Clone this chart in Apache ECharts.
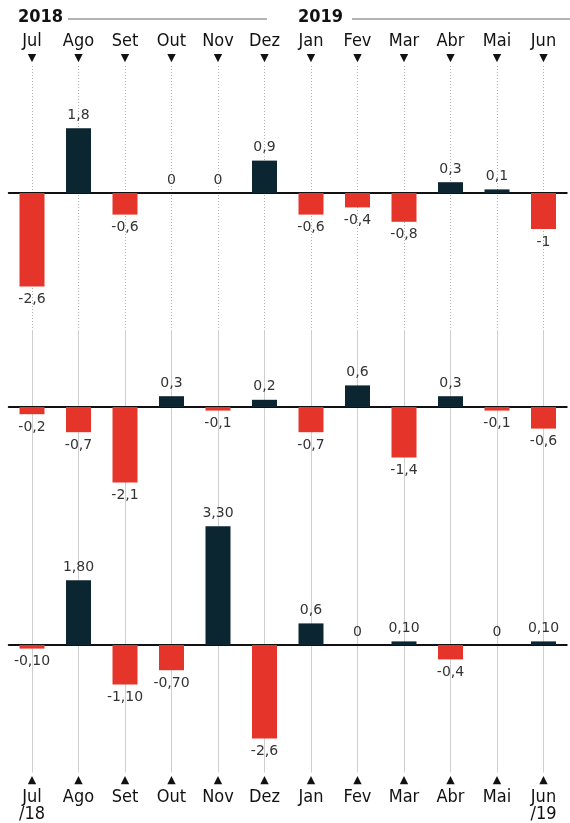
<!DOCTYPE html>
<html>
<head>
<meta charset="utf-8">
<script src="https://cdn.jsdelivr.net/npm/echarts@6/dist/echarts.min.js"></script>
<style>html,body{margin:0;padding:0;background:#fff;}#c{width:570px;height:823px;}</style>
</head>
<body>
<div id="c"></div>
<script>
const months = ['Jul','Ago','Set','Out','Nov','Dez','Jan','Fev','Mar','Abr','Mai','Jun'];
const bottomSuffix = ['/18','','','','','','','','','','','/19'];
const years = ['2018','2019'];

const panel1 = [-2.6, 1.8, -0.6, 0, 0, 0.9, -0.6, -0.4, -0.8, 0.3, 0.1, -1];
const panel1Labels = ['-2,6','1,8','-0,6','0','0','0,9','-0,6','-0,4','-0,8','0,3','0,1','-1'];

const panel2 = [-0.2, -0.7, -2.1, 0.3, -0.1, 0.2, -0.7, 0.6, -1.4, 0.3, -0.1, -0.6];
const panel2Labels = ['-0,2','-0,7','-2,1','0,3','-0,1','0,2','-0,7','0,6','-1,4','0,3','-0,1','-0,6'];

const panel3 = [-0.1, 1.8, -1.1, -0.7, 3.3, -2.6, 0.6, 0, 0.1, -0.4, 0, 0.1];
const panel3Labels = ['-0,10','1,80','-1,10','-0,70','3,30','-2,6','0,6','0','0,10','-0,4','0','0,10'];

const FONT = "'Liberation Sans Narrow','DejaVu Sans Condensed','Roboto Condensed','Liberation Sans',sans-serif";
const VFONT = "'DejaVu Sans',sans-serif";
const NAVY = '#0c2631';
const RED = '#e5352b';

const chart = echarts.init(document.getElementById('c'), null, {renderer: 'canvas'});

function barData(vals, labels) {
  return vals.map((v, i) => ({
    value: v,
    itemStyle: {color: v < 0 ? RED : NAVY},
    label: {position: v < 0 ? 'bottom' : 'top', formatter: labels[i]}
  }));
}

const barGrids = [
  {top: 121, height: 180, min: -3, max: 2},
  {top: 371, height: 126, min: -2.5, max: 1},
  {top: 519, height: 234, min: -3, max: 3.5}
];

const grids = [
  {left: 32, right: 26.5, top: 66, height: 264},
  {left: 32, right: 26.5, top: 330, bottom: 46}
];
barGrids.forEach(g => grids.push({left: 8.75, right: 3.25, top: g.top, height: g.height}));

const xAxes = [
  {
    gridIndex: 0, type: 'value', position: 'top', min: 0, max: 11, interval: 1,
    axisLine: {show: false}, axisTick: {show: false},
    splitLine: {show: true, lineStyle: {color: '#b0b0b0', type: [1, 2], width: 1}},
    axisLabel: {
      margin: 1,
      formatter: v => '{m|' + months[v] + '}\n{t|▼}',
      rich: {
        m: {fontFamily: FONT, fontSize: 18, color: '#111', lineHeight: 20},
        t: {fontFamily: 'DejaVu Sans', fontSize: 11, color: '#111', lineHeight: 14}
      }
    }
  },
  {
    gridIndex: 1, type: 'value', position: 'bottom', min: 0, max: 11, interval: 1,
    axisLine: {show: false}, axisTick: {show: false},
    splitLine: {show: true, lineStyle: {color: '#cfcfcf', width: 1}},
    axisLabel: {
      margin: 0,
      formatter: v => '{t|▲}\n{m|' + months[v] + '}' + (bottomSuffix[v] ? '\n{m|' + bottomSuffix[v] + '}' : ''),
      rich: {
        m: {fontFamily: FONT, fontSize: 18, color: '#111', lineHeight: 17},
        t: {fontFamily: 'DejaVu Sans', fontSize: 11, color: '#111', lineHeight: 16}
      }
    }
  }
];
const yAxes = [
  {gridIndex: 0, type: 'value', show: false, min: 0, max: 1},
  {gridIndex: 1, type: 'value', show: false, min: 0, max: 1}
];
const series = [];
const panels = [[panel1, panel1Labels], [panel2, panel2Labels], [panel3, panel3Labels]];
barGrids.forEach((g, k) => {
  const gi = k + 2;
  xAxes.push({
    gridIndex: gi, type: 'category', data: months,
    axisLine: {show: true, onZero: true, lineStyle: {color: '#111', width: 2}},
    axisTick: {show: false}, axisLabel: {show: false}, splitLine: {show: false}
  });
  yAxes.push({gridIndex: gi, type: 'value', show: false, min: g.min, max: g.max, splitLine: {show: false}});
  series.push({
    type: 'bar', xAxisIndex: gi, yAxisIndex: gi, barWidth: 25,
    data: barData(panels[k][0], panels[k][1]),
    label: {show: true, distance: 6, fontFamily: VFONT, fontSize: 14, color: '#333'},
    z: 3
  });
});

chart.setOption({
  animation: false,
  backgroundColor: '#fff',
  grid: grids,
  xAxis: xAxes,
  yAxis: yAxes,
  series: series,
  graphic: [
    {type: 'text', left: 18, top: 8, style: {text: years[0], font: "bold 18px " + FONT, fill: '#111'}},
    {type: 'line', shape: {x1: 68, y1: 19, x2: 267, y2: 19}, style: {stroke: '#9a9a9a', lineWidth: 1.5}},
    {type: 'text', left: 298, top: 8, style: {text: years[1], font: "bold 18px " + FONT, fill: '#111'}},
    {type: 'line', shape: {x1: 352, y1: 19, x2: 570, y2: 19}, style: {stroke: '#9a9a9a', lineWidth: 1.5}}
  ]
});
</script>
</body>
</html>
